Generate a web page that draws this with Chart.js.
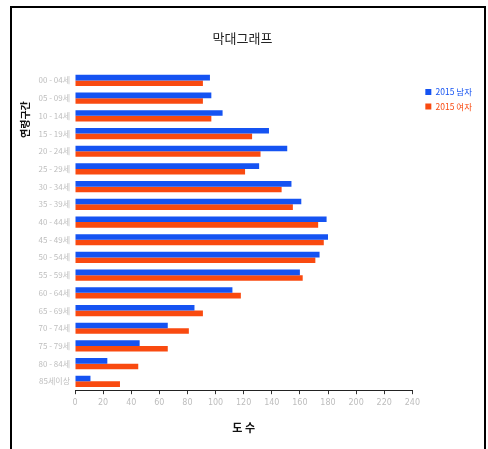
<!DOCTYPE html>
<html>
<head>
<meta charset="utf-8">
<script src="https://cdn.jsdelivr.net/npm/chart.js@4/dist/chart.umd.min.js"></script>
<style>
  html, body { margin: 0; padding: 0; background: #fff; overflow: hidden; }
  #frame {
    position: absolute; left: 10px; top: 6px;
    width: 476px; height: 480px;
    border: 2px solid #000; box-sizing: border-box;
  }
  #wrap { position: absolute; left: -2px; top: 0px; width: 468px; height: 440px; }
</style>
</head>
<body>
<div id="frame"><div id="wrap"><canvas id="c"></canvas></div></div>
<script>
// 연령구간별 인구 (2015)
const ageGroups = [
  '00 - 04세', '05 - 09세', '10 - 14세', '15 - 19세', '20 - 24세', '25 - 29세',
  '30 - 34세', '35 - 39세', '40 - 44세', '45 - 49세', '50 - 54세', '55 - 59세',
  '60 - 64세', '65 - 69세', '70 - 74세', '75 - 79세', '80 - 84세', '85세이상'
];
const male2015   = [96, 97, 105, 138, 151, 131, 154, 161, 179, 180, 174, 160, 112, 85, 66, 46, 23, 11];
const female2015 = [91, 91, 97, 126, 132, 121, 147, 155, 173, 177, 171, 162, 118, 91, 81, 66, 45, 32];
const xTicks = [0, 20, 40, 60, 80, 100, 120, 140, 160, 180, 200, 220, 240];
const yTitle = '연령구간';

const BLUE = '#1553f2';
const ORANGE = '#f94a10';
const KR = '"Noto Sans CJK KR", "Noto Sans", sans-serif';

// y축 제목: 차트 영역 위쪽에 세로로 표시
const yTitlePlugin = {
  id: 'yTitle',
  afterDraw(chart) {
    const ctx = chart.ctx;
    const top = chart.chartArea.top;
    ctx.save();
    ctx.translate(15, top + 48);
    ctx.rotate(-Math.PI / 2);
    ctx.fillStyle = '#111';
    ctx.font = 'bold 10px ' + KR;
    ctx.textAlign = 'center';
    ctx.textBaseline = 'middle';
    ctx.fillText(yTitle, 0, 0);
    ctx.restore();
  }
};

// 범례를 차트 영역에서 조금 떨어뜨림
const legendOffsetPlugin = {
  id: 'legendOffset',
  afterLayout(chart) {
    chart.legend.left += 7;
    chart.legend.right += 7;
  }
};

new Chart(document.getElementById('c'), {
  type: 'bar',
  data: {
    labels: ageGroups,
    datasets: [
      { label: '2015 남자', data: male2015, backgroundColor: BLUE, borderWidth: 0 },
      { label: '2015 여자', data: female2015, backgroundColor: ORANGE, borderWidth: 0 }
    ]
  },
  plugins: [yTitlePlugin, legendOffsetPlugin],
  options: {
    indexAxis: 'y',
    responsive: true,
    maintainAspectRatio: false,
    animation: false,
    devicePixelRatio: 1,
    layout: { padding: { left: 0, right: 3, top: 18, bottom: 10 } },
    datasets: { bar: { barPercentage: 1.0, categoryPercentage: 0.63 } },
    plugins: {
      title: {
        display: true, text: '막대그래프', color: '#222',
        font: { family: KR, size: 13, weight: 'normal' },
        padding: { top: 4, bottom: 26 }
      },
      legend: {
        position: 'right', align: 'start',
        title: { display: true, text: ' ', font: { size: 9 }, padding: { top: 45, bottom: 0 } },
        labels: {
          boxWidth: 6, boxHeight: 6, padding: 6,
          font: { family: KR, size: 8.5 },
          generateLabels(chart) {
            return chart.data.datasets.map((ds, i) => ({
              text: ds.label, fillStyle: ds.backgroundColor, strokeStyle: ds.backgroundColor,
              lineWidth: 0, fontColor: ds.backgroundColor, datasetIndex: i, hidden: false
            }));
          }
        }
      },
      tooltip: { enabled: false }
    },
    scales: {
      x: {
        min: 0, max: 240,
        afterBuildTicks(scale) { scale.ticks = xTicks.map(v => ({ value: v })); },
        ticks: { color: '#bdbdbd', font: { family: '"DejaVu Sans", sans-serif', size: 8 }, padding: 4, maxRotation: 0 },
        grid: { drawOnChartArea: false, drawTicks: true, tickLength: 4, color: '#333' },
        border: { display: true, color: '#222', width: 1 },
        title: {
          display: true, text: '도 수', color: '#111',
          font: { family: KR, size: 11, weight: 'bold' },
          padding: { top: 9, bottom: 4 }
        }
      },
      y: {
        afterFit(scale) { scale.width = 65; },
        ticks: { color: '#bdbdbd', font: { family: KR, size: 8 }, padding: 5, autoSkip: false },
        grid: { display: false, drawTicks: false },
        border: { display: false }
      }
    }
  }
});
</script>
</body>
</html>
